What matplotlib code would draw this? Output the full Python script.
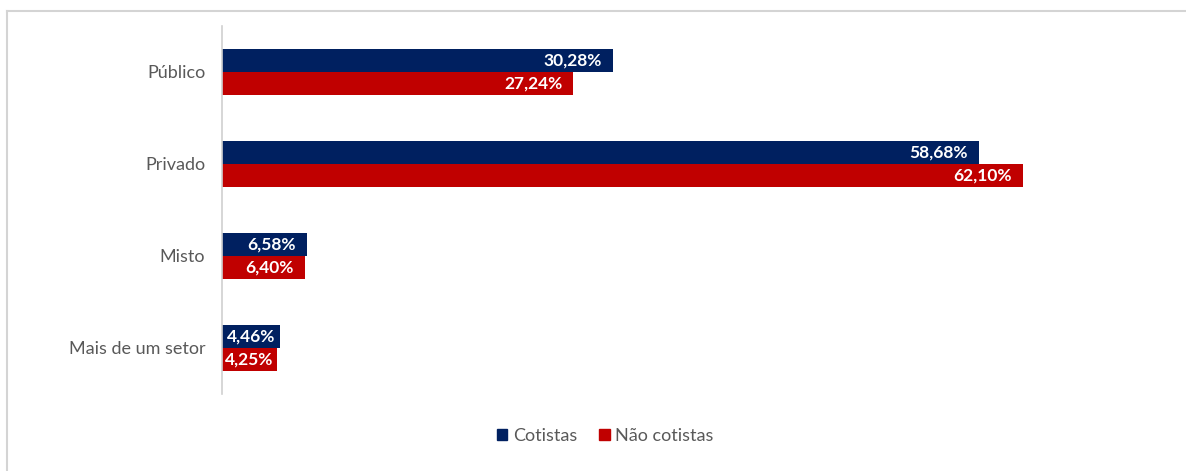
import matplotlib.pyplot as plt
from matplotlib.lines import Line2D
from matplotlib.patches import Patch

plt.rcParams['font.family'] = ['Lato', 'DejaVu Sans']

setores = ["Público", "Privado", "Misto", "Mais de um setor"]
cotistas = [30.28, 58.68, 6.58, 4.46]
nao_cotistas = [27.24, 62.10, 6.40, 4.25]
series = ["Cotistas", "Não cotistas"]

azul = "#002060"
vermelho = "#C00000"
cinza = "#595959"

fig = plt.figure(figsize=(11.86, 4.71), dpi=100)

# moldura cinza clara em volta do grafico
fig.add_artist(Line2D([7 / 1186, 1], [1 - 11 / 471, 1 - 11 / 471], color="#D4D4D4", lw=1.5))
fig.add_artist(Line2D([7 / 1186, 7 / 1186], [0, 1 - 11 / 471], color="#D4D4D4", lw=1.5))

ax = fig.add_axes([222 / 1186, 77 / 471, 903 / 1186, 368 / 471])

y = range(len(setores))
h = 0.25
ax.barh([i - h / 2 for i in y], cotistas, height=h, color=azul)
ax.barh([i + h / 2 for i in y], nao_cotistas, height=h, color=vermelho)

def fmt(v):
    return f"{v:.2f}%".replace(".", ",")

def rotulo(v, pos):
    # barras curtas: rotulo centrado; demais: dentro da ponta
    if v < 5:
        ax.text(v / 2, pos, fmt(v), color="white", fontsize=12.5,
                fontweight="bold", ha="center", va="center")
    else:
        ax.text(v - 0.85, pos, fmt(v), color="white", fontsize=12.5,
                fontweight="bold", ha="right", va="center")

for i in y:
    rotulo(cotistas[i], i - h / 2)
    rotulo(nao_cotistas[i], i + h / 2)

ax.set_xlim(0, 70)
ax.set_ylim(3.5, -0.5)
ax.set_yticks(list(y))
ax.set_yticklabels(setores, color=cinza, fontsize=13)
ax.tick_params(axis="y", length=0, pad=12)
ax.set_xticks([])
for s in ["top", "right", "bottom"]:
    ax.spines[s].set_visible(False)
ax.spines["left"].set_color("#D0D0D0")
ax.spines["left"].set_linewidth(1.2)

handles = [Patch(color=azul, label=series[0]), Patch(color=vermelho, label=series[1])]
leg = fig.legend(handles=handles, loc="center", bbox_to_anchor=(605 / 1186, 1 - 436 / 471),
                 ncol=2, frameon=False, fontsize=13, handlelength=0.6, handleheight=0.6,
                 handletextpad=0.3, columnspacing=1.2)
for t in leg.get_texts():
    t.set_color(cinza)

fig.savefig("out.png", dpi=100)
